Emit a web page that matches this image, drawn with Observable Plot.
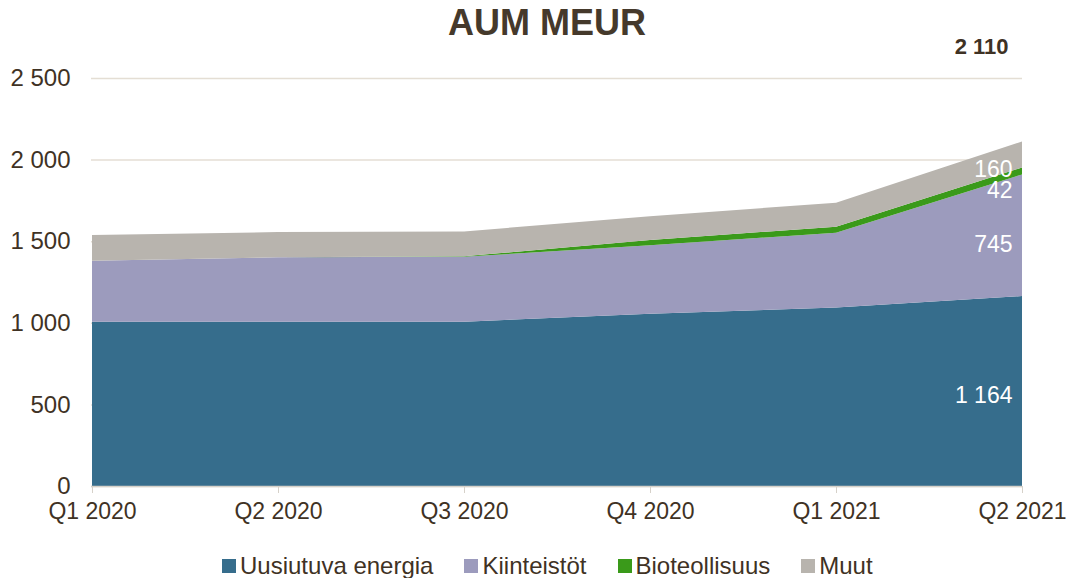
<!DOCTYPE html>
<html>
<head>
<meta charset="utf-8">
<script src="https://cdn.jsdelivr.net/npm/d3@7"></script>
<script src="https://cdn.jsdelivr.net/npm/@observablehq/plot@0.6"></script>
<style>
  body { margin: 0; background: #fff; font-family: "Liberation Sans", Arial, sans-serif; }
  #wrap { position: relative; width: 1069px; height: 578px; overflow: hidden; }
  #title { position: absolute; top: 0; left: 0; width: 1094px; text-align: center; font-weight: bold; font-size: 36px; line-height: 46px; color: #45392b; }
  #chart { position: absolute; top: 0; left: 0; }
  #legend { position: absolute; top: 553px; left: 222px; height: 26px; display: flex; align-items: center; font-size: 24px; color: #3f3224; white-space: nowrap; }
  .item { display: flex; align-items: center; margin-right: 31px; }
  .sw { width: 14px; height: 14px; margin-right: 4px; }
</style>
</head>
<body>
<div id="wrap">
  <div id="title">AUM MEUR</div>
  <div id="chart"></div>
  <div id="legend"></div>
</div>
<script>
const quarters = ["Q1 2020", "Q2 2020", "Q3 2020", "Q4 2020", "Q1 2021", "Q2 2021"];
const seriesNames = ["Uusiutuva energia", "Kiinteistöt", "Bioteollisuus", "Muut"];
const uusiutuva = [1007, 1007, 1007, 1056, 1093, 1164];
const kiinteistot = [373, 394, 398, 419, 459, 745];
const bioteollisuus = [0, 0, 3, 32, 37, 42];
const muut = [158, 155, 152, 146, 147, 160];
const lastLabels = ["1 164", "745", "42", "160"];
const totalLabel = "2 110";
const yTicks = [0, 500, 1000, 1500, 2000, 2500];

const colors = ["#366d8c", "#9c9bbd", "#3a9a1a", "#b8b4ae"];
const seriesValues = [uusiutuva, kiinteistot, bioteollisuus, muut];

const rows = [];
seriesNames.forEach((s, i) => quarters.forEach((q, j) => rows.push({quarter: q, series: s, value: seriesValues[i][j]})));

// label rows for the last quarter (midpoint of each stacked band)
const lastIdx = quarters.length - 1;
let cum = 0;
const labelRows = seriesNames.map((s, i) => {
  const v = seriesValues[i][lastIdx];
  const mid = cum + v / 2;
  cum += v;
  return {quarter: quarters[lastIdx], series: s, mid, text: lastLabels[i]};
});
const labelDy = [4, 9, 19, 15];

const fmt = d3.formatLocale({decimal: ",", thousands: " ", grouping: [3]}).format(",");
const textColor = "#3f3224";

const marks = [
  Plot.gridY(yTicks, {stroke: "#e4ded4", strokeOpacity: 1, strokeWidth: 1.5}),
  Plot.areaY(rows, {x: "quarter", y: "value", z: "series", fill: "series", order: seriesNames, curve: "linear"}),
  Plot.ruleY([0], {stroke: "#d6d1c9", strokeWidth: 1.5}),
  Plot.axisX({tickSize: 7, stroke: "#d6d1c9", color: textColor, tickPadding: 9, label: null}),
  Plot.axisY({ticks: yTicks, tickSize: 0, tickPadding: 21, tickFormat: fmt, color: textColor, fontSize: 24, label: null})
];
labelRows.forEach((r, i) => {
  marks.push(Plot.text([r], {x: "quarter", y: "mid", text: "text", fill: "white", textAnchor: "end", dx: -10, dy: labelDy[i], fontSize: 23}));
});
marks.push(Plot.text([totalLabel], {x: () => quarters[lastIdx], frameAnchor: "top", text: d => d, dy: -40, dx: -14, textAnchor: "end", fontWeight: "bold", fontSize: 22, fill: textColor}));

const chart = Plot.plot({
  width: 1069,
  height: 548,
  marginTop: 78,
  marginBottom: 62,
  marginLeft: 91,
  marginRight: 47,
  style: {fontFamily: "'Liberation Sans', Arial, sans-serif", fontSize: "23px", background: "transparent", overflow: "visible"},
  x: {type: "point", domain: quarters, padding: 0},
  y: {domain: [0, 2500]},
  color: {domain: seriesNames, range: colors},
  marks
});
document.getElementById("chart").appendChild(chart);

const legend = document.getElementById("legend");
seriesNames.forEach((s, i) => {
  const it = document.createElement("div");
  it.className = "item";
  it.innerHTML = `<div class="sw" style="background:${colors[i]}"></div><span>${s}</span>`;
  legend.appendChild(it);
});
</script>
</body>
</html>
